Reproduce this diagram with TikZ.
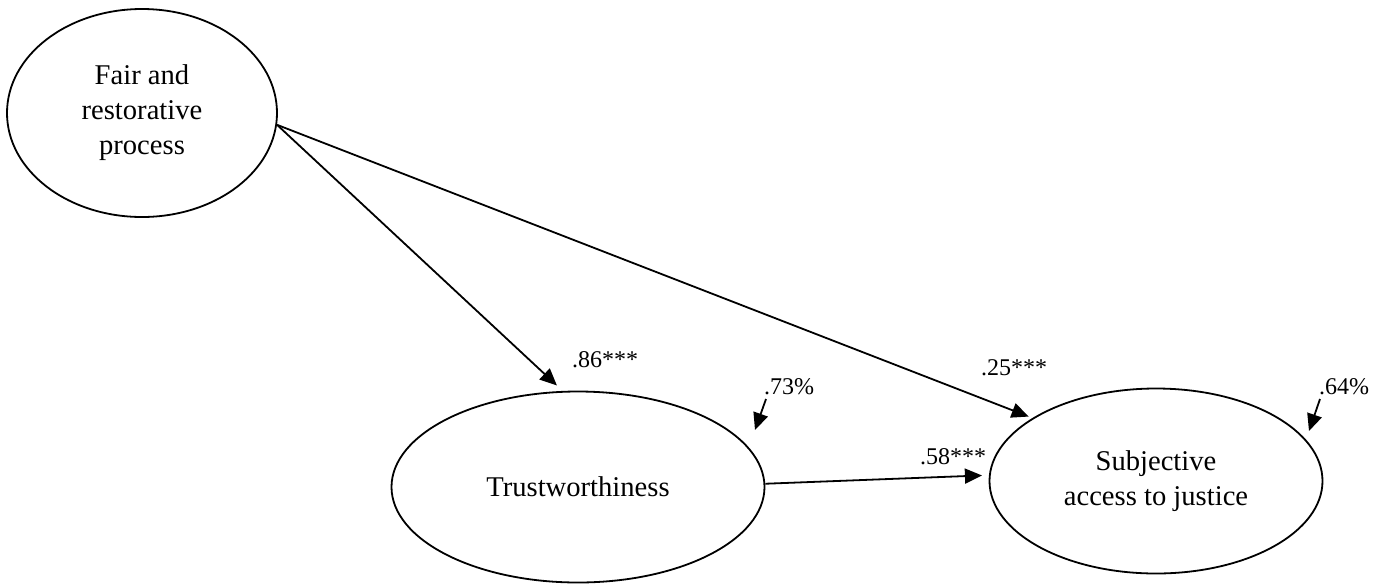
\documentclass[tikz,border=0pt]{standalone}
\usepackage{fontspec}
\setmainfont{Liberation Serif}
\usetikzlibrary{shapes.geometric,arrows.meta}

\tikzset{
    latent/.style={draw, ellipse, line width=0.9pt, inner sep=0pt, align=center,
        font=\fontsize{14.3}{17.5}\selectfont},
    path/.style={line width=0.9pt, -{Triangle[length=8.5pt,width=7.5pt]}},
    coef/.style={font=\fontsize{12}{14}\selectfont, inner sep=0pt}
}

\begin{document}
\begin{tikzpicture}[x=0.5pt, y=-0.5pt]
        \useasboundingbox (0,0) rectangle (1388,585);

        \node[latent, minimum width=135pt, minimum height=104pt] (fair) at (142,113) {Fair and\\restorative\\process};
        \node[latent, minimum width=186.5pt, minimum height=95.5pt] (trust) at (578,487) {Trustworthiness};
        \node[latent, minimum width=166.5pt, minimum height=92.5pt] (subj) at (1156,481) {Subjective\\access to justice};

        \draw[path, shorten >=4pt] (fair.-5) -- (trust.99);
        \draw[path, shorten >=2pt] (fair.-5) -- (subj.153);
        \draw[path, shorten >=3.5pt] (trust.1) -- (subj.178);

        % residuals
        \coordinate (trust-e) at (766,399);
        \coordinate (trust-t) at (755,430);
        \coordinate (subj-e) at (1320,399);
        \coordinate (subj-t) at (1309,431);
        \draw[path] (trust-e) -- (trust-t);
        \draw[path] (subj-e) -- (subj-t);

        \node[coef] (b1) at (605,360) {.86***};
        \node[coef] (b2) at (1014,368) {.25***};
        \node[coef] (b3) at (953,457) {.58***};
        \node[coef] (r1) at (789,387) {.73\%};
        \node[coef] (r2) at (1344,387) {.64\%};
    \end{tikzpicture}
\end{document}
